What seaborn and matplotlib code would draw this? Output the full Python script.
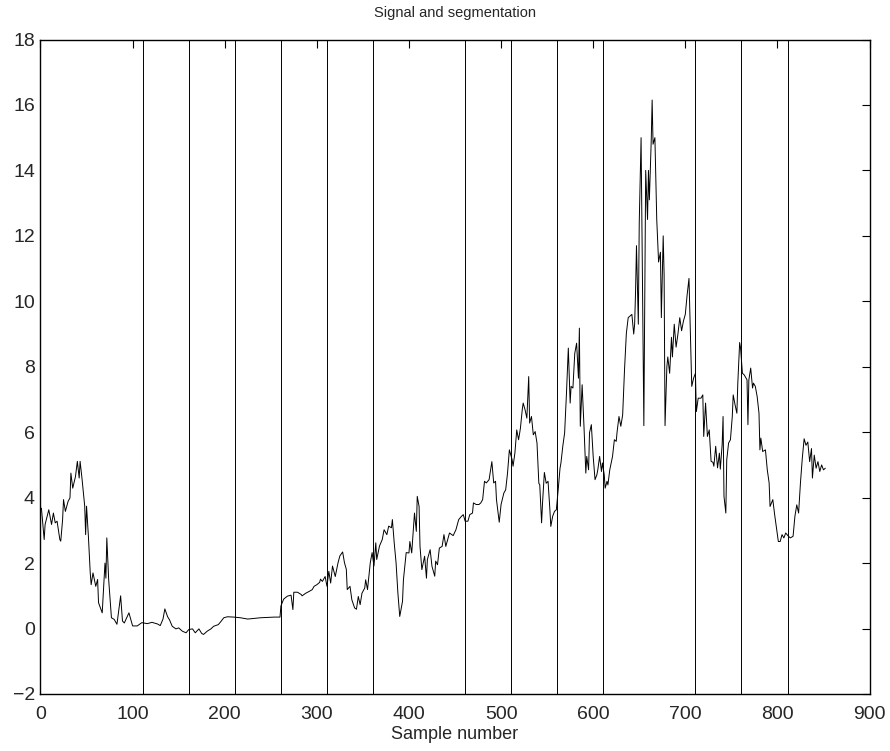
import matplotlib
matplotlib.use("Agg")
import matplotlib.pyplot as plt
import seaborn as sns
import pandas as pd

# Signal samples (sample index, amplitude)
sample_idx = [
    1, 4, 5, 9, 12, 14, 16, 18, 21, 22, 24, 25, 27, 30, 32, 33, 35, 38, 40, 42,
    43, 45, 48, 49, 50, 52, 54, 55, 57, 60, 62, 63, 67, 70, 71, 72, 74, 77, 80, 83,
    87, 89, 91, 96, 100, 105, 110, 116, 121, 127, 130, 133, 135, 138, 140, 143, 147, 150, 154, 158,
    161, 165, 168, 172, 175, 177, 181, 185, 188, 193, 196, 199, 203, 210, 217, 225, 232, 239, 246, 254,
    260, 261, 264, 268, 272, 274, 275, 279, 283, 284, 288, 292, 295, 297, 300, 303, 304, 306, 309, 311,
    313, 315, 317, 320, 323, 325, 328, 330, 332, 333, 336, 338, 341, 343, 345, 347, 349, 352, 353, 355,
    358, 360, 362, 364, 365, 368, 371, 373, 376, 378, 381, 382, 384, 386, 388, 390, 393, 394, 397, 400,
    401, 403, 406, 408, 409, 411, 412, 414, 417, 419, 420, 423, 425, 428, 429, 431, 433, 436, 438, 440,
    442, 444, 448, 451, 454, 457, 459, 461, 464, 466, 469, 470, 473, 476, 478, 480, 482, 484, 487, 490,
    492, 494, 495, 498, 500, 503, 505, 507, 509, 512, 513, 515, 517, 519, 521, 523, 524, 526, 528, 530,
    531, 533, 535, 537, 539, 541, 542, 544, 545, 547, 549, 551, 553, 554, 556, 558, 560, 562, 564, 565,
    567, 569, 571, 573, 575, 576, 578, 580, 582, 584, 585, 586, 588, 590, 592, 593, 595, 596, 598, 600,
    602, 604, 605, 607, 609, 610, 612, 613, 615, 616, 618, 621, 623, 625, 626, 628, 630, 632, 634, 636,
    638, 640, 642, 644, 645, 646, 647, 649, 650, 652, 655, 657, 659, 660, 661, 663, 664, 665, 667, 669,
    671, 673, 674, 676, 677, 678, 680, 681, 683, 685, 686, 688, 690, 692, 694, 696, 698, 700, 702, 704,
    707, 709, 711, 712, 714, 717, 719, 720, 722, 724, 726, 728, 730, 731, 733, 735, 737, 738, 740, 741,
    742, 744, 745, 747, 749, 751, 752, 754, 756, 757, 759, 760, 762, 764, 767, 768, 769, 771, 773, 774,
    776, 778, 780, 781, 782, 784, 787, 789, 791, 792, 795, 797, 799, 801, 803, 805, 807, 809, 812, 814,
    817, 819, 821, 823, 825, 827, 829, 831, 833, 835, 837, 838, 840, 842, 844, 846, 848, 850, 852,
]
amplitude = [
    3.68, 2.72, 3.18, 3.63, 3.18, 3.53, 3.23, 3.28, 2.72, 2.67, 3.33, 3.94, 3.58, 3.89, 3.99, 4.75, 4.29, 4.65, 5.11, 4.60,
    5.11, 4.60, 3.74, 2.87, 3.74, 2.82, 1.70, 1.34, 1.70, 1.29, 1.50, 0.79, 0.48, 2.00, 1.54, 2.77, 1.50, 0.33, 0.28, 0.13,
    1.00, 0.23, 0.17, 0.48, 0.08, 0.08, 0.18, 0.15, 0.19, 0.14, 0.09, 0.29, 0.60, 0.36, 0.27, 0.07, -0.01, 0.02, -0.08, -0.13,
    -0.03, -0.01, -0.13, -0.01, -0.15, -0.18, -0.08, -0.01, 0.07, 0.12, 0.22, 0.33, 0.36, 0.35, 0.33, 0.29, 0.31, 0.33, 0.34, 0.35,
    0.35, 0.69, 0.90, 0.99, 1.02, 0.58, 1.11, 1.11, 1.04, 1.00, 1.08, 1.14, 1.19, 1.29, 1.34, 1.41, 1.51, 1.44, 1.59, 1.29,
    1.75, 1.39, 1.91, 1.59, 2.01, 2.22, 2.34, 2.01, 1.81, 1.19, 1.29, 0.88, 0.63, 0.59, 0.98, 0.73, 1.08, 1.24, 1.49, 1.19,
    2.01, 2.32, 1.91, 2.62, 2.11, 2.52, 2.72, 3.02, 2.87, 3.13, 3.08, 3.33, 2.62, 2.01, 1.08, 0.37, 0.83, 1.49, 2.32, 2.31,
    2.66, 2.31, 3.53, 2.97, 4.04, 3.73, 2.51, 1.80, 2.21, 1.54, 2.11, 2.41, 1.90, 1.60, 2.06, 1.95, 2.46, 2.51, 2.87, 2.51,
    2.72, 2.92, 2.84, 3.02, 3.33, 3.43, 3.48, 3.28, 3.28, 3.48, 3.53, 3.84, 3.79, 3.79, 3.84, 3.94, 4.50, 4.45, 4.55, 5.10,
    4.45, 4.50, 3.94, 3.25, 3.79, 4.14, 4.24, 4.75, 5.46, 5.16, 4.96, 5.36, 6.07, 5.77, 6.12, 6.69, 6.89, 6.69, 6.43, 7.70,
    6.28, 6.48, 5.92, 6.02, 5.67, 4.44, 4.39, 3.23, 3.83, 4.77, 4.44, 4.50, 3.63, 3.12, 3.43, 3.58, 3.63, 4.24, 4.90, 5.06,
    5.57, 5.98, 7.19, 8.57, 6.89, 7.40, 7.35, 8.41, 8.72, 7.65, 9.18, 6.18, 7.45, 6.18, 4.75, 5.26, 4.85, 5.98, 6.23, 5.26,
    4.55, 4.70, 4.85, 5.26, 4.80, 5.06, 4.70, 4.29, 4.50, 4.39, 4.85, 5.26, 5.77, 5.72, 6.02, 6.48, 6.18, 6.53, 7.90, 9.02,
    9.50, 9.55, 9.60, 9.00, 9.30, 10.30, 11.70, 9.30, 12.40, 15.00, 6.20, 14.00, 12.50, 14.00, 13.10, 14.90, 16.15, 14.80, 15.00, 12.50,
    11.20, 11.50, 9.50, 12.00, 10.80, 6.20, 8.00, 8.30, 7.80, 8.90, 8.30, 9.30, 8.60, 9.00, 9.50, 9.10, 9.40, 9.60, 10.20, 10.70,
    7.40, 7.65, 7.80, 6.63, 7.04, 7.04, 7.14, 5.87, 6.89, 5.87, 6.07, 5.11, 5.08, 4.96, 5.57, 4.91, 5.36, 4.87, 5.62, 6.48,
    4.04, 3.53, 5.16, 5.67, 5.77, 6.48, 7.14, 6.84, 6.58, 7.50, 8.74, 8.57, 7.80, 7.75, 7.60, 6.23, 7.60, 7.96, 7.35, 7.50,
    7.40, 7.09, 6.58, 5.46, 5.82, 5.41, 5.46, 4.85, 4.45, 3.73, 3.94, 3.48, 3.07, 2.66, 2.66, 2.87, 2.77, 2.92, 2.82, 2.77,
    2.82, 3.43, 3.78, 3.53, 4.45, 5.20, 5.80, 5.60, 5.70, 5.10, 5.50, 4.60, 5.30, 4.90, 5.10, 4.80, 5.00, 4.85, 4.90,
]

# Segment boundaries
boundaries = [111, 161, 211, 261, 311, 361, 461, 511, 561, 611, 711, 761, 811]

x_ticks = [0, 100, 200, 300, 400, 500, 600, 700, 800, 900]
y_ticks = [-2, 0, 2, 4, 6, 8, 10, 12, 14, 16, 18]

sns.set_style("white")
plt.rcParams["font.family"] = ["Liberation Sans", "DejaVu Sans"]
plt.rcParams.update({
    "xtick.direction": "in",
    "ytick.direction": "in",
    "xtick.top": True,
    "ytick.right": True,
    "axes.edgecolor": "black",
    "axes.linewidth": 1.0,
})

fig = plt.figure(figsize=(8.9, 7.51), dpi=100)
ax = fig.add_axes([0.0455, 0.0759, 0.9315, 0.8715])

signal = pd.DataFrame({"sample": sample_idx, "value": amplitude})
sns.lineplot(data=signal, x="sample", y="value", ax=ax, color="black",
             linewidth=0.7, estimator=None, sort=False)

for b in boundaries:
    ax.axvline(b, color="black", linewidth=0.7)

ax.set_xlim(0, 900)
ax.set_ylim(-2, 18)
ax.set_xticks(x_ticks)
ax.set_yticks(y_ticks)
ax.set_xticklabels([str(t) for t in x_ticks])
ax.set_yticklabels([str(t).replace("-", "\u2212") for t in y_ticks])
ax.tick_params(axis="both", which="major", length=6, width=0.8, labelsize=14, color="black")
ax.tick_params(axis="x", pad=9)
ax.tick_params(axis="y", pad=4)
for s in ax.spines.values():
    s.set_visible(True)
    s.set_color("black")

ax.set_title("Signal and segmentation", fontsize=10.5, pad=16)
ax.set_xlabel("Sample number", fontsize=13, labelpad=2)
ax.set_ylabel("")

fig.savefig("out.png", dpi=100, facecolor="white")
